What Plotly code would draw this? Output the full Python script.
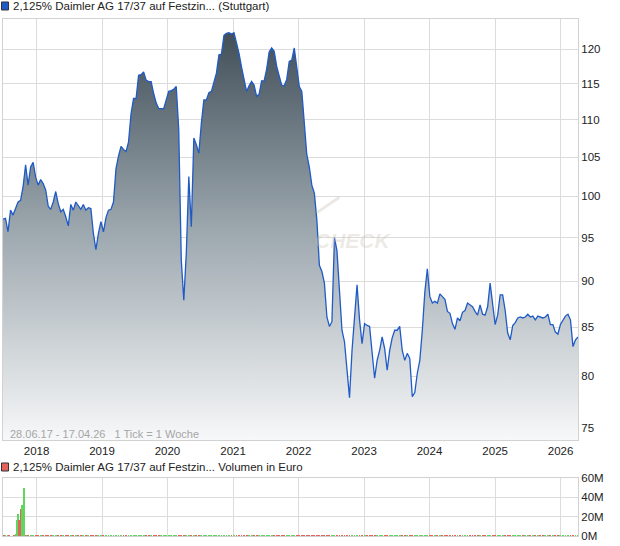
import pandas as pd
import plotly.graph_objects as go

# ---- data -------------------------------------------------------------
price_start = "2017-06-28"
price = [
    97.2, 97.3, 95.7, 98.3, 97.7, 98.5, 99.3, 99.5, 101.2, 104.0,
    101.4, 103.7, 104.3, 102.4, 101.4, 102.1, 101.6, 100.8, 98.8, 98.4,
    99.3, 100.6, 99.1, 98.1, 98.4, 97.5, 96.4, 99.0, 98.3, 99.3,
    98.8, 98.4, 99.0, 98.3, 98.6, 98.5, 95.5, 93.6, 95.5, 96.9,
    95.7, 97.4, 98.3, 98.4, 99.3, 103.5, 105.1, 106.4, 106.0, 105.7,
    107.0, 110.8, 112.9, 112.9, 116.2, 116.3, 116.7, 115.5, 115.3, 115.3,
    113.6, 112.3, 111.5, 111.5, 111.5, 112.7, 113.9, 114.0, 114.2, 114.6,
    108.6, 92.4, 87.9, 93.2, 102.5, 96.3, 107.5, 106.6, 105.5, 109.5,
    112.7, 112.7, 113.7, 113.9, 115.3, 116.5, 119.2, 119.3, 122.1, 122.4,
    122.5, 122.3, 122.5, 121.1, 119.4, 117.4, 115.4, 113.9, 114.7, 115.3,
    114.8, 113.2, 113.5, 115.4, 115.4, 117.1, 119.6, 120.2, 119.7, 117.5,
    116.1, 114.8, 114.7, 115.6, 118.2, 118.4, 120.2, 117.4, 114.6, 113.9,
    109.5, 105.3, 103.7, 101.4, 100.4, 97.1, 91.8, 91.1, 89.8, 86.1,
    85.1, 85.6, 95.0, 93.5, 89.0, 84.7, 83.5, 80.3, 77.9, 82.6,
    86.5, 89.6, 85.8, 83.3, 85.4, 85.2, 85.1, 82.3, 79.8, 81.6,
    82.6, 84.0, 82.8, 80.6, 82.6, 83.9, 84.7, 84.7, 85.1, 82.6,
    81.6, 82.3, 81.8, 78.0, 78.4, 80.3, 81.6, 84.7, 88.8, 91.4,
    88.3, 87.6, 87.8, 87.6, 88.6, 88.3, 88.0, 86.7, 86.5, 85.4,
    84.8, 86.0, 85.7, 86.6, 86.8, 87.6, 87.4, 87.2, 86.7, 86.3,
    87.4, 86.4, 86.3, 87.2, 89.8, 87.6, 85.3, 86.3, 88.5, 88.5,
    86.8, 84.4, 83.7, 85.2, 85.5, 86.0, 86.1, 86.0, 86.1, 86.4,
    86.1, 86.2, 85.8, 86.2, 86.1, 86.0, 86.1, 86.4, 85.3, 85.3,
    84.5, 84.3, 85.3, 85.7, 86.2, 86.4, 85.8, 83.0, 83.7, 84.0,
]

# weekly volume (million EUR) for the first 20 weeks, with up/down flag
vol_early = [1.5, 1.0, 0.8, 0.3, 0.8, 0.5, 0.3, 0.3, 0.3, 0.5,
             2.0, 17.2, 22.8, 16.6, 28.6, 32.0, 26.9, 49.7, 0.8, 0.5]
vol_early_up = [0, 0, 1, 1, 1, 0, 1, 0, 1, 0,
                1, 1, 1, 0, 0, 1, 1, 1, 0, 1]
# bi-weekly volume (million EUR) afterwards
vol_late = [
    0.9, 1.2, 0.7, 1.0, 1.4, 0.8, 0.6, 1.1, 0.9, 0.7, 1.3, 0.8, 0.5, 1.0, 0.9, 0.6, 1.2, 0.8, 0.7, 1.0,
    0.8, 0.6, 1.1, 0.9, 0.5, 0.8, 1.0, 0.7, 0.6, 0.9, 0.8, 1.2, 0.7, 0.6, 0.9, 0.8, 0.5, 1.0, 0.7, 0.6,
    0.9, 0.7, 0.8, 0.5, 0.6, 1.0, 0.7, 0.8, 0.6, 0.5, 0.9, 0.7, 0.6, 0.8, 0.5, 0.7, 0.9, 0.6, 0.5, 0.8,
    1.5, 1.2, 0.9, 0.8, 0.7, 0.6, 0.9, 0.5, 0.7, 0.6, 0.8, 0.5, 0.6, 0.7, 0.5, 0.8, 0.6, 0.5, 0.7, 0.6,
    0.5, 0.7, 0.6, 0.8, 0.5, 0.6, 0.7, 0.5, 0.6, 0.8, 0.5, 0.6, 0.7, 0.5, 0.6, 0.5, 0.7, 0.6, 0.5, 0.6,
    0.7, 0.5, 0.6, 0.5, 0.8, 0.6, 0.5, 0.7, 0.6, 0.5, 0.8, 0.7, 0.6, 0.9, 0.7, 0.6, 0.8, 0.7, 0.9, 0.6,
    0.7, 0.6, 0.8, 0.5, 0.7, 0.6, 0.5, 0.8, 0.7, 0.6, 0.5, 0.7, 0.6, 0.5, 0.6, 0.7, 0.5, 0.6, 0.7, 0.5,
    0.6, 0.5, 0.7, 0.6, 0.5, 0.6, 0.5, 0.7, 0.6, 0.5, 0.6, 0.7, 0.5, 0.6, 0.8, 0.6, 0.5, 0.7, 0.8, 0.6,
    0.5, 0.6, 0.7, 0.5, 0.6, 0.5, 0.6, 0.7, 0.5, 0.6, 0.5, 0.6, 0.5, 0.7, 0.6, 0.5, 0.6, 0.5, 0.7, 0.6,
    0.5, 0.6, 0.5, 0.6, 0.7, 0.5, 0.6, 0.5, 0.6, 0.5, 0.7, 0.6, 0.5, 0.6, 0.5, 0.6, 0.5, 0.6, 0.5, 0.7,
    0.6, 0.5, 0.6, 0.5, 0.6, 0.7, 0.5, 0.6, 0.5, 0.6, 0.5, 0.6, 0.7, 0.5, 0.6, 0.5, 0.6, 0.7, 0.5, 0.6,
]

price_ticks = [75, 80, 85, 90, 95, 100, 105, 110, 115, 120]
vol_ticks = [0, 20, 40, 60]
vol_tick_labels = ["0M", "20M", "40M", "60M"]

title_main = "2,125% Daimler AG 17/37 auf Festzin... (Stuttgart)"
title_vol = "2,125% Daimler AG 17/37 auf Festzin... Volumen in Euro"
range_note = "28.06.17 - 17.04.26   1 Tick = 1 Woche"

# ---- derived ----------------------------------------------------------
dates = pd.date_range(price_start, periods=len(price), freq="14D")
early_dates = pd.date_range(price_start, periods=len(vol_early), freq="7D")
n_early_pts = 10  # bi-weekly points covered by the weekly block
late_dates = dates[n_early_pts:]

GREEN = "#5fd75f"
RED = "#e3625c"
early_colors = [GREEN if u else RED for u in vol_early_up]
late_colors = [GREEN if price[i] >= price[i - 1] else RED
               for i in range(n_early_pts, len(price))]

FONT = "Liberation Sans, Arial, sans-serif"
GRID = "#dcdcdc"
BORDER = "#d2d2d2"

fig = go.Figure()

fig.add_trace(go.Scatter(
    x=dates, y=price, mode="lines",
    line=dict(color="#1f5bc6", width=1.3),
    fill="tozeroy",
    fillgradient=dict(type="vertical",
                      colorscale=[[0, "#f7f8f9"], [0.5, "#9ca7ae"], [1, "#3b4953"]],
                      start=73.92, stop=124.6),
    xaxis="x", yaxis="y", hoverinfo="skip", showlegend=False,
))

fig.add_trace(go.Bar(
    x=early_dates, y=[v * 1e6 for v in vol_early],
    marker=dict(color=early_colors, line=dict(width=0)),
    width=4 * 86400000, xaxis="x2", yaxis="y2", showlegend=False, hoverinfo="skip",
))
fig.add_trace(go.Bar(
    x=late_dates, y=[v * 1e6 for v in vol_late],
    marker=dict(color=late_colors, line=dict(width=0)),
    width=5 * 86400000, xaxis="x2", yaxis="y2", showlegend=False, hoverinfo="skip",
))

x_common = dict(
    type="date", range=[dates[0], dates[-1]],
    tick0="2018-01-01", dtick="M12", tickformat="%Y",
    showgrid=True, gridcolor=GRID, gridwidth=1,
    showline=True, mirror=True, linecolor=BORDER, linewidth=1,
    zeroline=False, ticks="",
    tickfont=dict(family=FONT, size=11.5, color="#222"),
)

fig.update_layout(
    width=620, height=546,
    margin=dict(l=3, r=42, t=19, b=10),
    paper_bgcolor="white", plot_bgcolor="white",
    bargap=0,
    xaxis=dict(**x_common, domain=[0, 1], anchor="y"),
    xaxis2=dict(**x_common, domain=[0, 1], anchor="y2", matches="x", showticklabels=False),
    yaxis=dict(
        type="log", domain=[0.1857, 1], range=[1.86876, 2.09552],
        side="right", tickvals=price_ticks, ticktext=[str(t) for t in price_ticks],
        showgrid=True, gridcolor=GRID, gridwidth=1,
        showline=True, mirror=True, linecolor=BORDER, zeroline=False, ticks="",
        tickfont=dict(family=FONT, size=11.5, color="#222"),
    ),
    yaxis2=dict(
        domain=[0, 0.1128], range=[0, 60e6], side="right",
        tickvals=[t * 1e6 for t in vol_ticks], ticktext=vol_tick_labels,
        showgrid=True, gridcolor=GRID, gridwidth=1,
        showline=True, mirror=True, linecolor=BORDER, zeroline=False, ticks="",
        tickfont=dict(family=FONT, size=11.5, color="#222"),
    ),
    shapes=[
        dict(type="rect", xref="paper", yref="paper",
             x0=-0.0026, x1=0.0096, y0=1.0174, y1=1.0329,
             fillcolor="#1f5bc6", line=dict(color="#333", width=1)),
        dict(type="rect", xref="paper", yref="paper",
             x0=-0.0026, x1=0.0096, y0=0.1257, y1=0.1412,
             fillcolor=RED, line=dict(color="#333", width=1)),
        dict(type="line", xref="paper", yref="paper",
             x0=0.545, y0=0.625, x1=0.585, y1=0.655,
             line=dict(color="rgba(200,190,175,0.35)", width=3)),
    ],
    annotations=[
        dict(text=title_main, xref="paper", yref="paper", x=0.0139, y=1.0251,
             xanchor="left", yanchor="middle", showarrow=False,
             font=dict(family=FONT, size=11.5, color="#222")),
        dict(text=title_vol, xref="paper", yref="paper", x=0.0139, y=0.1335,
             xanchor="left", yanchor="middle", showarrow=False,
             font=dict(family=FONT, size=11.5, color="#222")),
        dict(text=range_note, xref="paper", yref="paper", x=0.0087, y=0.1973,
             xanchor="left", yanchor="middle", showarrow=False,
             font=dict(family=FONT, size=11, color="#a6a6a6")),
        dict(text="<b><i>CHECK</i></b>", xref="paper", yref="paper", x=0.61, y=0.5725,
             xanchor="center", yanchor="middle", showarrow=False,
             font=dict(family=FONT, size=21, color="rgba(205,195,180,0.35)")),
    ],
)

fig.write_html("out.html", config={"displayModeBar": False},
               post_script="document.body.style.margin='0px';")
